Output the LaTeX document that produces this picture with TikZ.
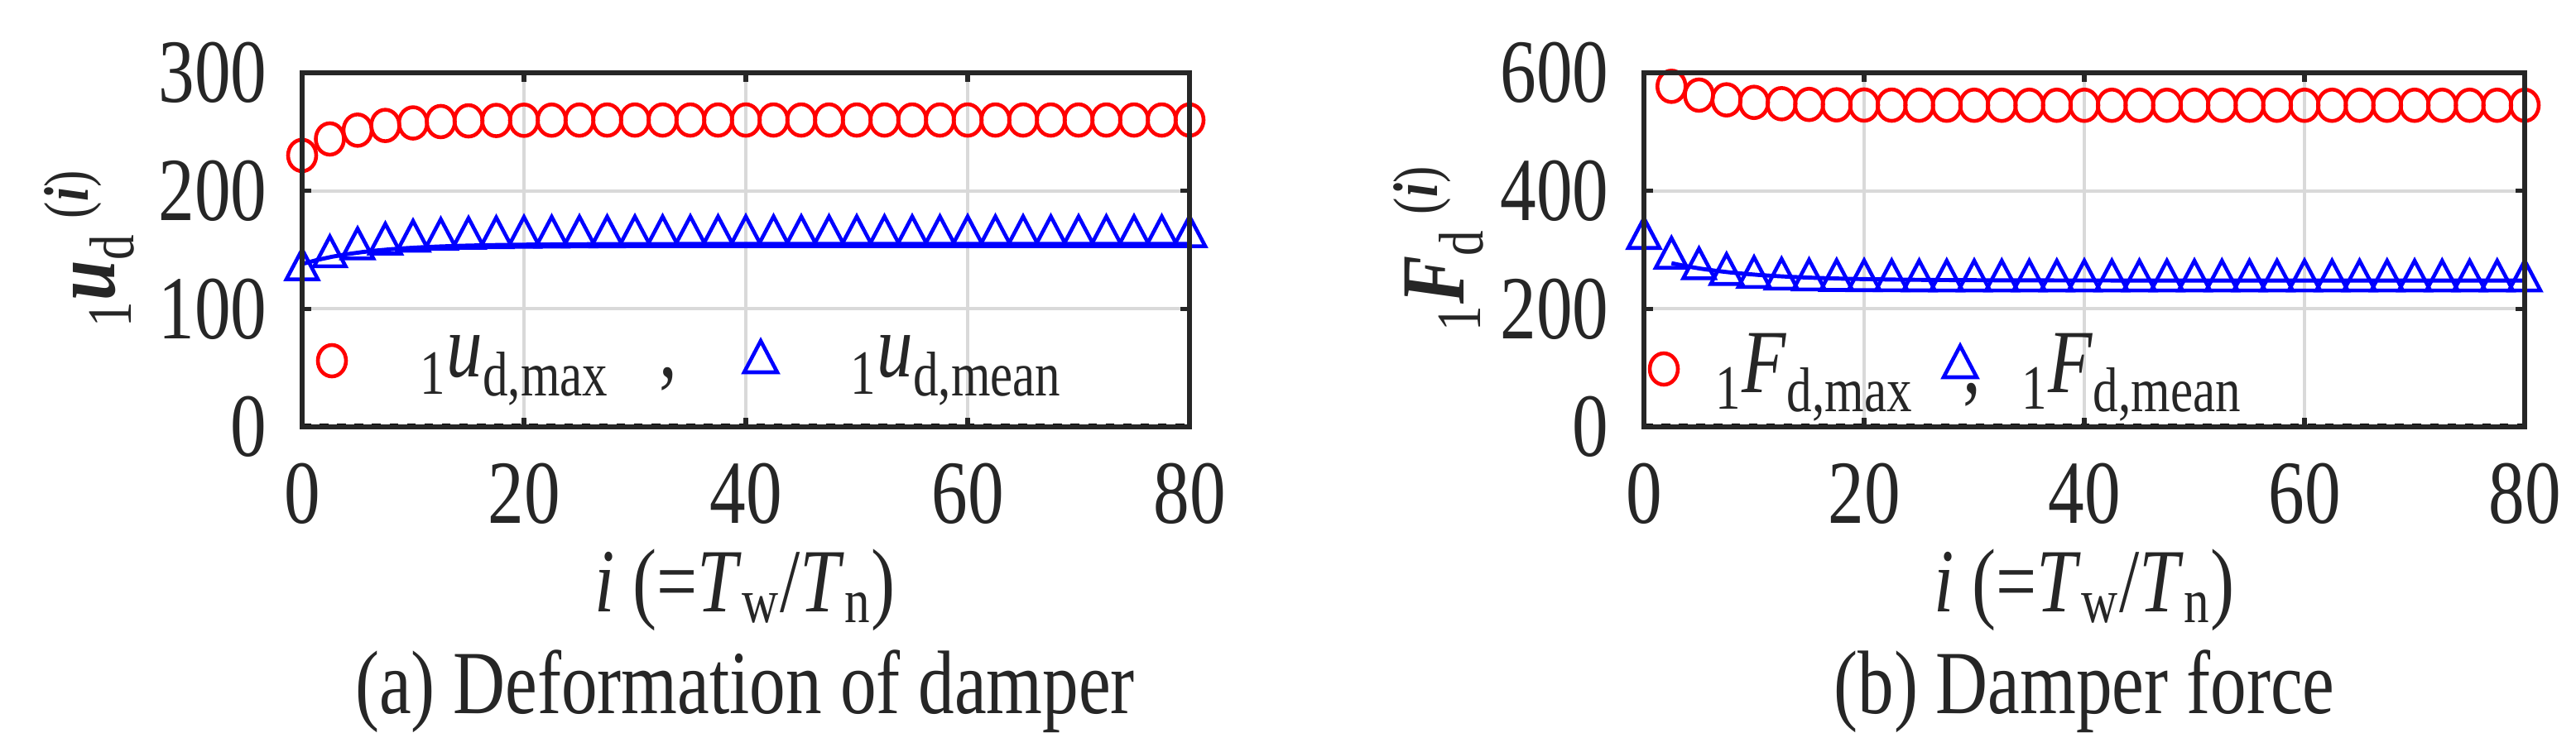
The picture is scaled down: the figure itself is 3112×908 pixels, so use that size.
\documentclass[tikz,border=0pt]{standalone}
\usepackage{fontspec}
\setmainfont[FakeStretch=0.8]{Liberation Serif}
\newcommand{\sbs}[1]{\textsubscript{#1}}
\newcommand{\sps}[1]{\textsuperscript{#1}}
\begin{document}
\begin{tikzpicture}[x=0.01cm,y=-0.01cm,
  tick/.style={font=\fontsize{31}{34}\selectfont,text=black!85},
  lab/.style={font=\fontsize{31}{34}\selectfont,text=black!85},
  grid/.style={draw=black!15,line width=1.2pt},
  frame/.style={draw=black!85,line width=1.6pt},
  circ/.style={draw=red,line width=1.3pt},
  tri/.style={draw=blue,line width=1.3pt}]
\useasboundingbox (0,0) rectangle (3112,908);
% ===== left panel =====
\begin{scope}
\foreach \i in {20,40,60} \draw[grid] ({365+\i*13.4},88) -- ({365+\i*13.4},516);
\foreach \v in {100,200} \draw[grid] (365,{516-\v*1.4267}) -- (1437,{516-\v*1.4267});
\draw[black,dashed,line width=1.4pt] (365,514) -- (1437,514);
\draw[blue,line width=1.4pt,domain=0:80,samples=60] plot ({365+\x*13.4},{516-(155-17*exp(-\x/6))*1.4267});
\foreach \k in {0,...,32}{
  \pgfmathsetmacro\ii{\k*2.5}
  \pgfmathsetmacro\px{365+\ii*13.4}
  \pgfmathsetmacro\pr{516-(260-30*exp(-\ii/4))*1.4267}
  \pgfmathsetmacro\pb{516-(165-28*exp(-\ii/5))*1.4267}
  \draw[circ] (\px,\pr) ellipse (17 and 19);
  \draw[tri] (\px-19,\pb+17) -- (\px+19,\pb+17) -- (\px,\pb-19) -- cycle;
}
\draw[frame] (365,88) rectangle (1437,516);
\foreach \i/\t in {0/0,20/20,40/40,60/60,80/80}{
  \draw[frame] ({365+\i*13.4},516) -- ({365+\i*13.4},505);
  \draw[frame] ({365+\i*13.4},88) -- ({365+\i*13.4},99);
  \node[tick] (xa\t) at ({365+\i*13.4},597) {\t};}
\foreach \v in {0,100,200,300}{
  \draw[frame] (365,{516-\v*1.4267}) -- (376,{516-\v*1.4267});
  \draw[frame] (1437,{516-\v*1.4267}) -- (1426,{516-\v*1.4267});
  \node[tick,anchor=east] (ya\v) at (335,{516-\v*1.4267}) {\v};}
\node[lab,rotate=90] (yla) at (108,300) {\sbs{1}\textbf{\textit{u}}\sbs{d}\,\sps{(\textbf{\textit{i}})}};
\node[lab] (xla) at (900,713) {\textit{i} (=\textit{T}\sbs{w}/\textit{T}\sbs{n})};
\node[lab] (capa) at (900,836) {(a) Deformation of damper};
\draw[circ] (401,436) ellipse (17 and 19);
\node[tick,anchor=west] (la1) at (495,448) {\sbs{1}\textit{u}\sbs{d,max}\;\;,};
\draw[tri] (899,450) -- (939,450) -- (919,412) -- cycle;
\node[tick,anchor=west] (la2) at (1015,448) {\sbs{1}\textit{u}\sbs{d,mean}};
\end{scope}
% ===== right panel =====
\begin{scope}
\foreach \i in {20,40,60} \draw[grid] ({1986+\i*13.3},88) -- ({1986+\i*13.3},516);
\foreach \v in {200,400} \draw[grid] (1986,{516-\v*0.71333}) -- (3050,{516-\v*0.71333});
\draw[black,dashed,line width=1.4pt] (1986,514) -- (3050,514);
\draw[blue,line width=1.4pt,domain=2.5:80,samples=60] plot ({1986+\x*13.3},{516-(248+42*exp(-\x/7))*0.71333});
\foreach \k in {0,...,32}{
  \pgfmathsetmacro\ii{\k*2.5}
  \pgfmathsetmacro\px{1986+\ii*13.3}
  \pgfmathsetmacro\pb{516-(255+72*exp(-\ii/4))*0.71333}
  \draw[tri] (\px-19,\pb+17) -- (\px+19,\pb+17) -- (\px,\pb-19) -- cycle;
}
\foreach \k in {1,...,32}{
  \pgfmathsetmacro\ii{\k*2.5}
  \pgfmathsetmacro\px{1986+\ii*13.3}
  \pgfmathsetmacro\pr{516-(545+60*exp(-\ii/4))*0.71333}
  \draw[circ] (\px,\pr) ellipse (17 and 19);
}
\draw[frame] (1986,88) rectangle (3050,516);
\foreach \i/\t in {0/0,20/20,40/40,60/60,80/80}{
  \draw[frame] ({1986+\i*13.3},516) -- ({1986+\i*13.3},505);
  \draw[frame] ({1986+\i*13.3},88) -- ({1986+\i*13.3},99);
  \node[tick] (xb\t) at ({1986+\i*13.3},597) {\t};}
\foreach \v in {0,200,400,600}{
  \draw[frame] (1986,{516-\v*0.71333}) -- (1997,{516-\v*0.71333});
  \draw[frame] (3050,{516-\v*0.71333}) -- (3039,{516-\v*0.71333});
  \node[tick,anchor=east] (yb\v) at (1956,{516-\v*0.71333}) {\v};}
\node[lab,rotate=90] (ylb) at (1738,300) {\sbs{1}\textbf{\textit{F}}\sbs{d}\,\sps{(\textbf{\textit{i}})}};
\node[lab] (xlb) at (2518,713) {\textit{i} (=\textit{T}\sbs{w}/\textit{T}\sbs{n})};
\node[lab] (capb) at (2518,836) {(b) Damper force};
\draw[circ] (2010,446) ellipse (17 and 19);
\node[tick,anchor=west] (lb1) at (2060,456) {\sbs{1}\textit{F}\sbs{d,max}\;\;,};
\draw[tri] (2348,456) -- (2388,456) -- (2368,418) -- cycle;
\node[tick,anchor=west] (lb2) at (2430,456) {\sbs{1}\textit{F}\sbs{d,mean}};
\end{scope}
\end{tikzpicture}
\end{document}
